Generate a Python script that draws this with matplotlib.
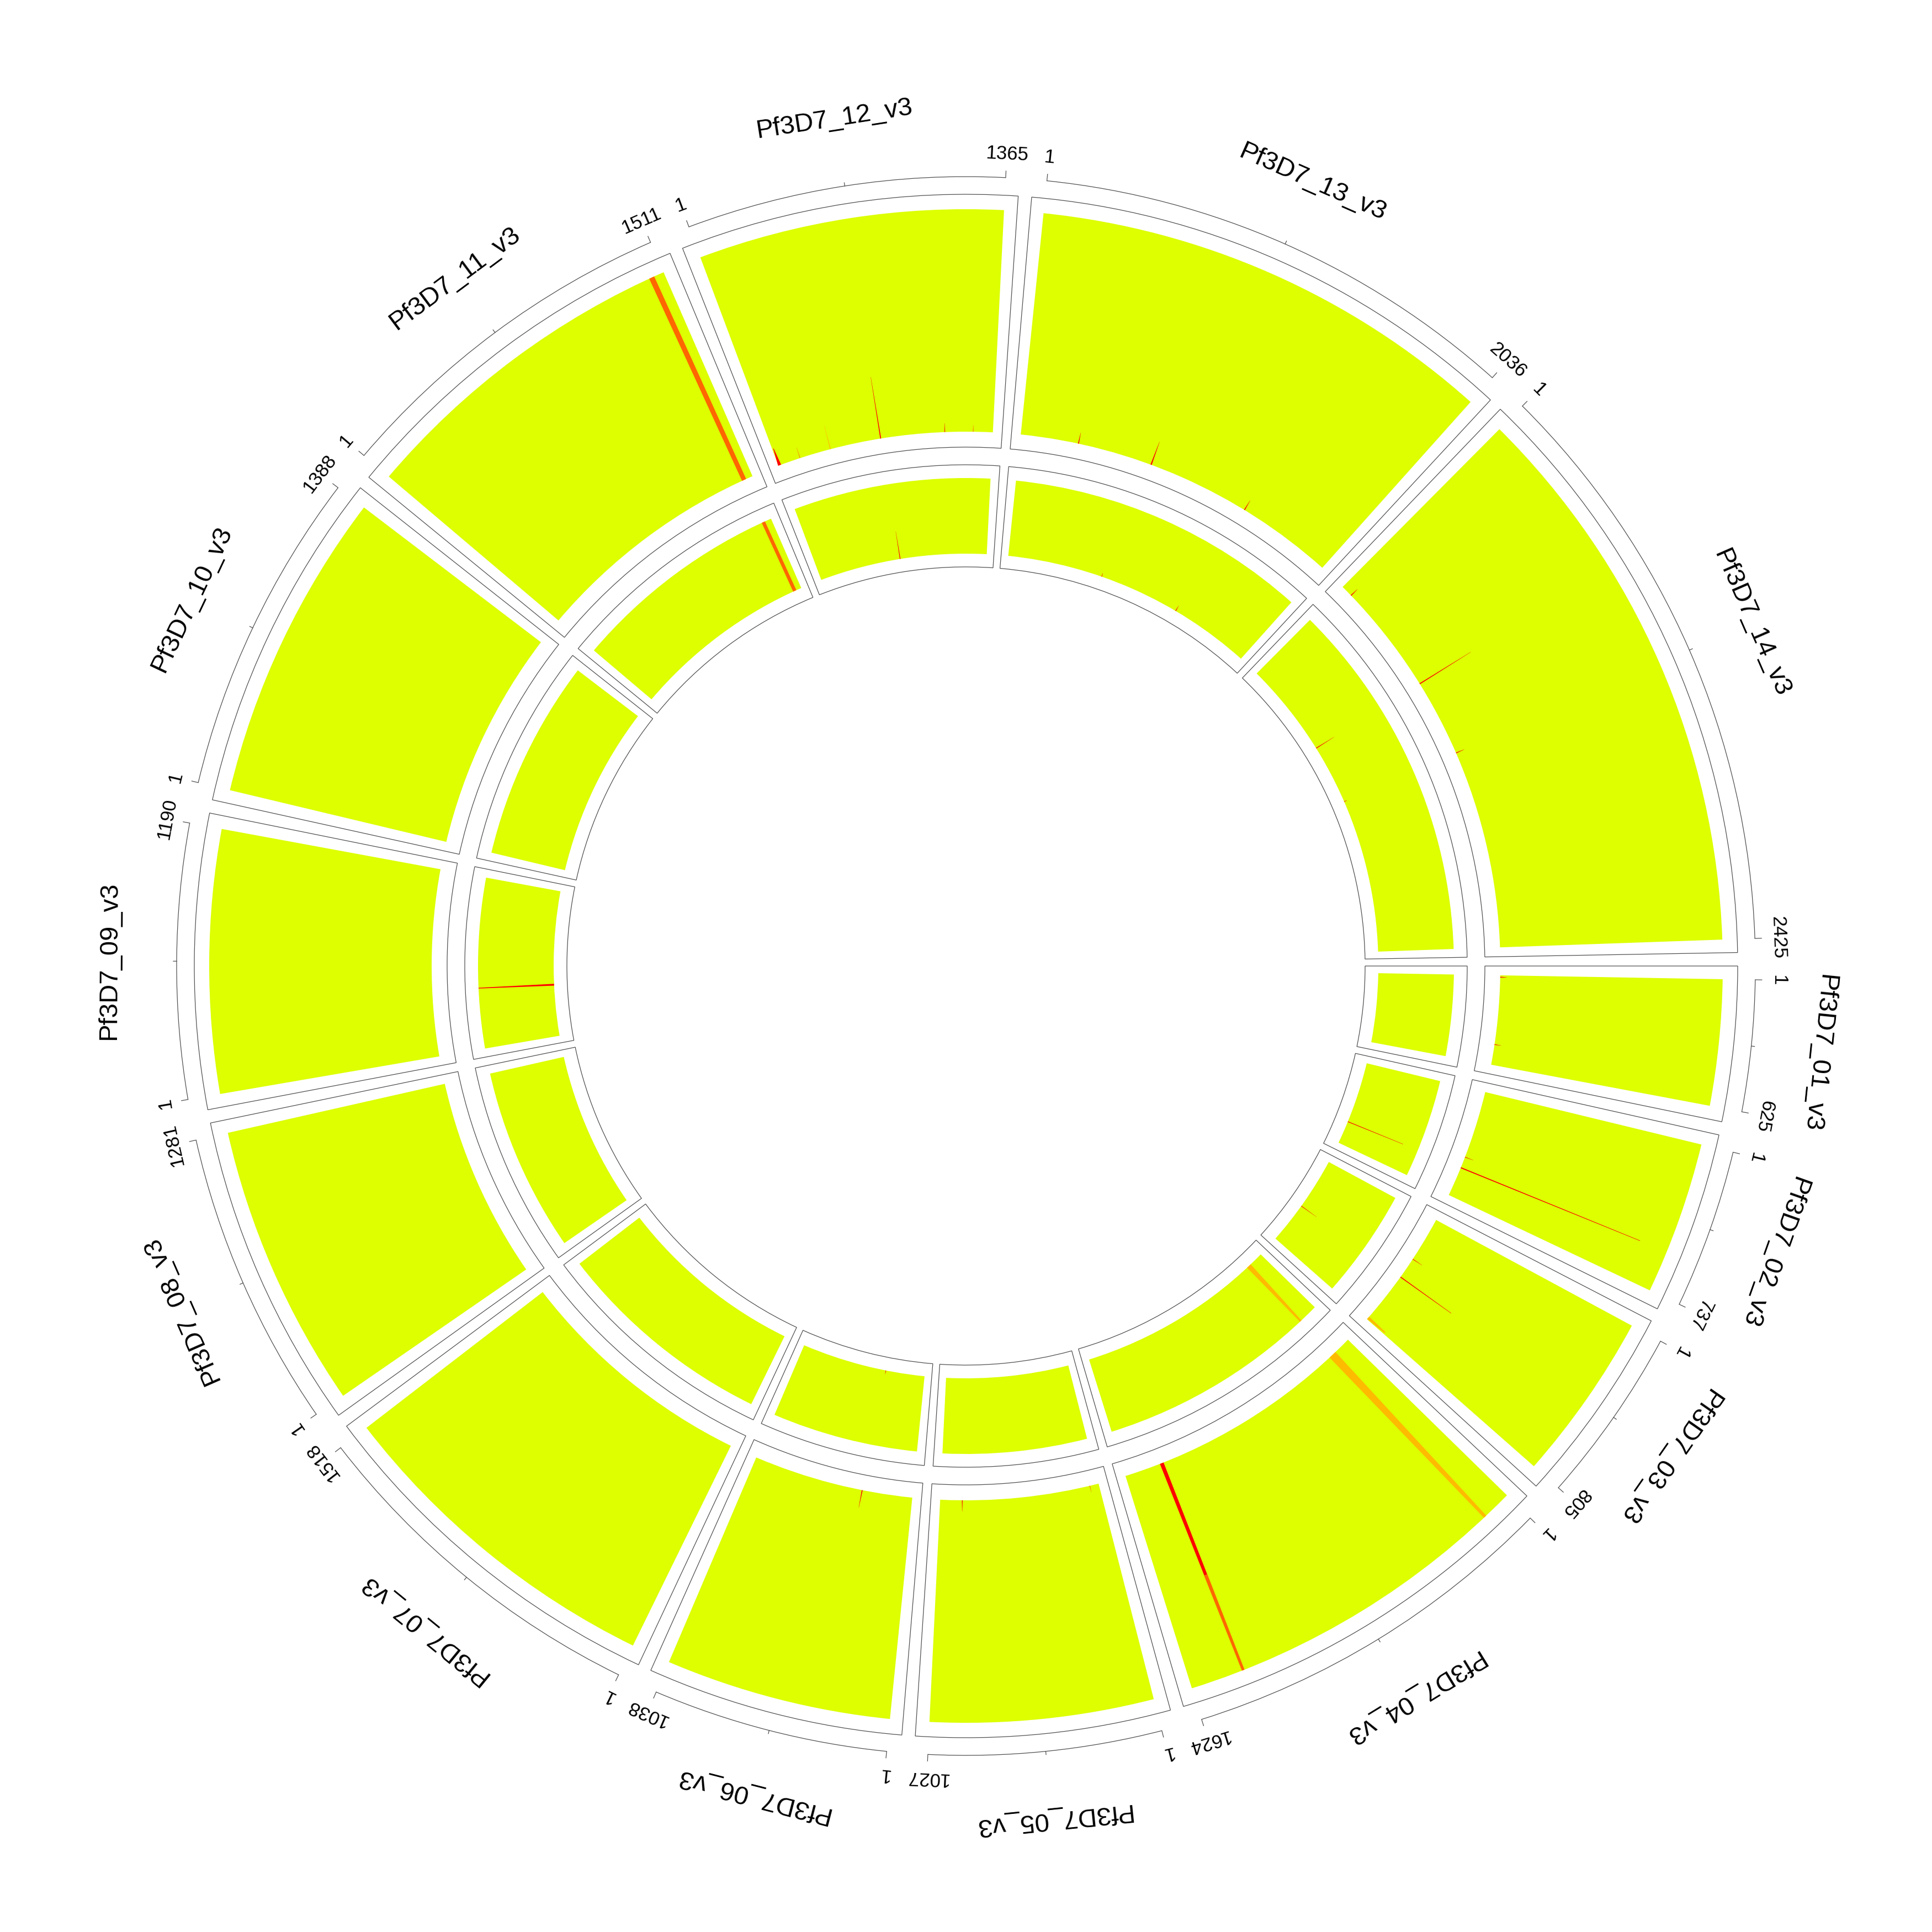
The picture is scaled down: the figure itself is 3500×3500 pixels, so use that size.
import numpy as np
import matplotlib
matplotlib.use("Agg")
import matplotlib.pyplot as plt
from matplotlib.patches import Wedge, Polygon, Arc

plt.rcParams['font.family'] = ['Liberation Sans', 'DejaVu Sans']

# --------------------------- DATA ---------------------------

chroms = ["Pf3D7_%02d_v3" % i for i in range(1, 15)]
lengths = [625, 737, 805, 1624, 1027, 1038, 1518, 1281, 1190, 1388, 1511, 1365, 2036, 2425]

# highlighted bins: chromosome, position, track, start / end (fraction of track), colour, width at base / tip
spike_chr = [11, 4, 4, 4, 2, 2, 3, 3, 3, 12, 12, 12, 12, 12, 12, 14, 6,
             13, 13, 13, 14, 14, 1, 1, 5, 5,
             11, 4, 2, 3, 9, 12, 14, 6, 13, 13, 14]
spike_pos = [1454, 1387, 1387, 133, 536, 459, 447, 303, 793, 662, 8, 341, 143, 1065, 1242, 747, 325,
             355, 815, 1446, 72, 1218, 13, 483, 885, 58,
             1454, 133, 536, 447, 421, 662, 747, 325, 1398, 755, 1218]
spike_track = ['outer'] * 26 + ['inner'] * 11
spike_lo = [0, 0, 0.54, 0, 0, 0, 0, 0, 0, 0, 0, 0, 0, 0, 0, 0, 0,
            0, 0, 0, 0, 0, 0, 0, 0, 0,
            0, 0, 0, 0, 0, 0, 0, 0, 0, 0, 0]
spike_hi = [1.0, 0.54, 1.0, 1.0, 0.87, 0.04, 0.28, 0.05, 0.10, 0.28, 0.08, 0.11, 0.05, 0.04, 0.03, 0.27, 0.08,
            0.05, 0.11, 0.05, 0.04, 0.04, 0.03, 0.03, 0.05, 0.03,
            1.0, 1.0, 0.79, 0.25, 1.0, 0.37, 0.28, 0.05, 0.08, 0.05, 0.04]
spike_col = ['orange', 'red', 'orange', 'amber', 'red', 'red', 'red', 'red', 'amber', 'red', 'red', 'amber',
             'orange', 'red', 'orange', 'red', 'red',
             'red', 'red', 'red', 'red', 'red', 'red', 'red', 'red', 'orange',
             'orange', 'amber', 'red', 'red', 'red', 'red', 'red', 'red', 'red', 'red', 'red']
spike_w0 = [28, 24, 18, 50, 7, 4, 6, 4, 20, 6, 20, 5, 3, 4, 4, 6, 6,
            6, 8, 6, 6, 5, 6, 5, 5, 4,
            28, 40, 6, 5, 15, 6, 6, 5, 6, 5, 5]
spike_w1 = [24, 16, 12, 14, 2, 1, 2, 1, 8, 1, 3, 1, 1, 1, 1, 1, 1,
            1, 1, 1, 1, 1, 1, 1, 1, 1,
            24, 14, 2, 1, 5, 1, 1, 1, 1, 1, 1]

colors = {'yellow': '#DDFF00', 'red': '#FF0000', 'orange': '#FF6600', 'amber': '#FFBB00'}

# --------------------------- LAYOUT ---------------------------

cx, cy = 1750, 1750
gap = 1.0
pad = 1.0
k = (360 - gap * len(lengths)) / sum(lengths)
cum = np.concatenate([[0], np.cumsum(lengths)[:-1]])
box_start = cum * k + np.arange(len(lengths)) * gap  # clockwise from east

tracks = {
    'outer': dict(box=(940, 1398), fill=(968, 1371)),
    'inner': dict(box=(723, 908), fill=(747, 884)),
}
line_col = '#505050'


def angle(i, p):
    # counter-clockwise angle in degrees of position p on chromosome i
    n = lengths[i]
    cw = box_start[i] + pad + p / n * (n * k - 2 * pad)
    return -cw


def pol(r, a):
    t = np.deg2rad(a)
    return cx + r * np.cos(t), cy + r * np.sin(t)


fig = plt.figure(figsize=(35, 35), dpi=100)
ax = fig.add_axes([0, 0, 1, 1])
ax.set_xlim(0, 3500)
ax.set_ylim(0, 3500)
ax.set_aspect('equal')
ax.axis('off')

# --------------------------- TRACKS ---------------------------

for i, n in enumerate(lengths):
    b0 = -box_start[i]
    b1 = -(box_start[i] + n * k)
    d0 = angle(i, 0)
    d1 = angle(i, n)
    for name, tr in tracks.items():
        r_in, r_out = tr['box']
        ax.add_patch(Wedge((cx, cy), r_out, b1, b0, width=r_out - r_in,
                           facecolor='none', edgecolor=line_col, lw=0.9))
        f_in, f_out = tr['fill']
        ax.add_patch(Wedge((cx, cy), f_out, d1, d0, width=f_out - f_in,
                           facecolor=colors['yellow'], edgecolor='none'))

for c, p, t, lo, hi, col, w0, w1 in zip(spike_chr, spike_pos, spike_track, spike_lo, spike_hi,
                                         spike_col, spike_w0, spike_w1):
    i = c - 1
    f_in, f_out = tracks[t]['fill']
    r0 = f_in + lo * (f_out - f_in)
    r1 = f_in + hi * (f_out - f_in)
    a = angle(i, p)
    deg_per = (lengths[i] * k - 2 * pad) / lengths[i]
    h0 = w0 * deg_per / 2
    h1 = w1 * deg_per / 2
    pts = [pol(r0, a - h0), pol(r1, a - h1), pol(r1, a + h1), pol(r0, a + h0)]
    ax.add_patch(Polygon(pts, closed=True, facecolor=colors[col], edgecolor='none'))

# --------------------------- AXIS AND LABELS ---------------------------

r_axis = 1430
for i, n in enumerate(lengths):
    d0 = angle(i, 0)
    d1 = angle(i, n)
    ax.add_patch(Arc((cx, cy), 2 * r_axis, 2 * r_axis, theta1=d1, theta2=d0,
                     color=line_col, lw=0.9))
    for p, tl in [(0, 12), (n / 2, 6), (n, 12)]:
        a = angle(i, p)
        x0, y0 = pol(r_axis, a)
        x1, y1 = pol(r_axis + tl, a)
        ax.plot([x0, x1], [y0, y1], color=line_col, lw=0.9)
    for p, s in [(0, "1"), (n, str(n))]:
        a = angle(i, p)
        x, y = pol(1472, a)
        ax.text(x, y, s, fontsize=25, rotation=a - 90, rotation_mode='anchor',
                ha='center', va='center')
    a = angle(i, n / 2)
    x, y = pol(1552, a)
    ax.text(x, y, chroms[i], fontsize=34, rotation=a - 90, rotation_mode='anchor',
            ha='center', va='center')

fig.savefig('out.png', dpi=100, facecolor='white')
